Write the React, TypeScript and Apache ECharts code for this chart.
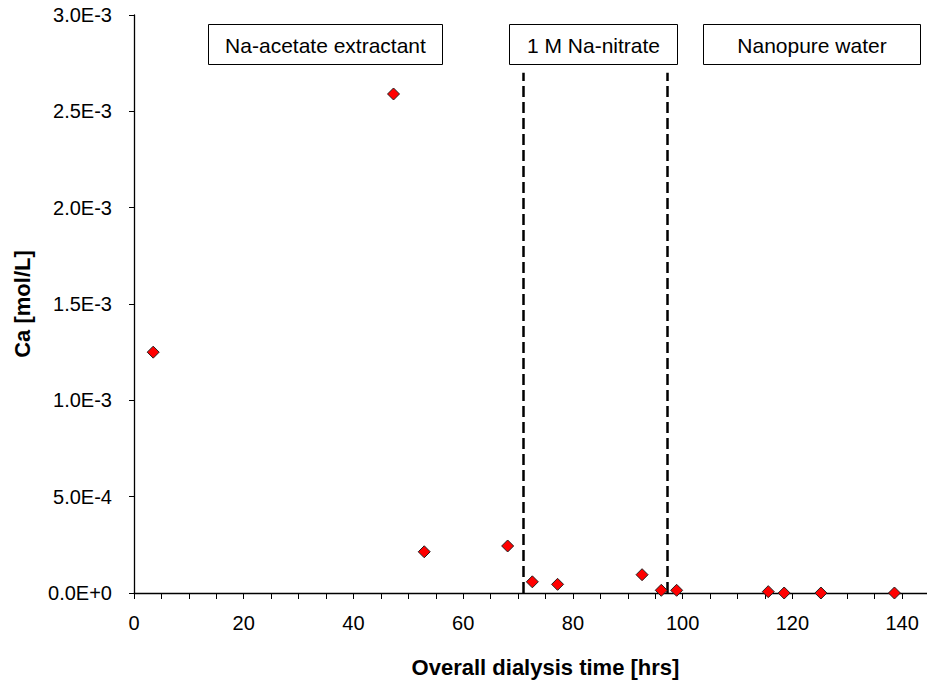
import React, { useEffect, useRef } from "react";
import * as echarts from "echarts";

// Data
const timeHrs = [3.5, 47.3, 52.9, 68.1, 72.6, 77.2, 92.6, 96.1, 98.9, 115.6, 118.5, 125.2, 138.6];
const caMolL = [1.25e-3, 2.59e-3, 2.14e-4, 2.44e-4, 5.8e-5, 4.5e-5, 9.5e-5, 1.4e-5, 1.4e-5, 7e-6, 0, 0, 0];
const phaseBoundaries = [71.0, 97.2];
const boundaryTop = 2.7e-3;
const phaseLabels = ["Na-acetate extractant", "1 M Na-nitrate", "Nanopure water"];
const xTitle = "Overall dialysis time [hrs]";
const yTitle = "Ca [mol/L]";

const FONT = "'Liberation Sans', Arial, sans-serif";

export default function App() {
  const ref = useRef<HTMLDivElement>(null);

  useEffect(() => {
    if (!ref.current) return;
    const chart = echarts.init(ref.current, undefined, { renderer: "svg" });

    const boxes = [
      { x: 208, y: 24, w: 234, h: 40 },
      { x: 509, y: 24, w: 168, h: 40 },
      { x: 703, y: 24, w: 217, h: 40 },
    ];

    const graphic: any[] = boxes.map((b, i) => ({
      type: "group",
      x: b.x,
      y: b.y,
      z: 100,
      children: [
        {
          type: "rect",
          shape: { x: 0.5, y: 0.5, width: b.w, height: b.h },
          style: { fill: "#ffffff", stroke: "#000000", lineWidth: 1 },
        },
        {
          type: "text",
          x: b.w / 2 + 0.5,
          y: b.h / 2 + 1,
          style: {
            text: phaseLabels[i],
            fill: "#000000",
            font: `21px ${FONT}`,
            align: "center",
            verticalAlign: "middle",
          },
        },
      ],
    }));

    chart.setOption({
      animation: false,
      backgroundColor: "#ffffff",
      grid: { left: 134, top: 15, width: 823, height: 578, containLabel: false },
      xAxis: {
        type: "value",
        min: 0,
        max: 150,
        interval: 20,
        name: xTitle,
        nameLocation: "middle",
        nameGap: 63,
        nameTextStyle: { fontFamily: FONT, fontSize: 22, fontWeight: "bold", color: "#000" },
        axisLine: { onZero: false, lineStyle: { color: "#000", width: 1.3 } },
        axisTick: { show: true, inside: false, length: 6, lineStyle: { color: "#000", width: 1 } },
        minorTick: { show: true, splitNumber: 4, length: 6, lineStyle: { color: "#000", width: 1 } },
        axisLabel: {
          fontFamily: FONT,
          fontSize: 20,
          color: "#000",
          margin: 20,
          showMaxLabel: false,
        },
        splitLine: { show: false },
      },
      yAxis: {
        type: "value",
        min: 0,
        max: 3e-3,
        interval: 5e-4,
        name: yTitle,
        nameLocation: "middle",
        nameGap: 101,
        nameTextStyle: { fontFamily: FONT, fontSize: 22, fontWeight: "bold", color: "#000" },
        axisLine: { show: true, onZero: false, lineStyle: { color: "#000", width: 1.3 } },
        axisTick: { show: true, inside: false, length: 5, lineStyle: { color: "#000", width: 1 } },
        axisLabel: {
          fontFamily: FONT,
          fontSize: 20,
          color: "#000",
          margin: 22,
          formatter: (v: number) => v.toExponential(1).toUpperCase(),
        },
        splitLine: { show: false },
      },
      series: [
        {
          type: "scatter",
          data: timeHrs.map((t, i) => [t, caMolL[i]]),
          symbol: "diamond",
          symbolSize: 12,
          itemStyle: { color: "#ff0000", borderColor: "#222222", borderWidth: 1, opacity: 1 },
          z: 5,
          markLine: {
            silent: true,
            symbol: ["none", "none"],
            label: { show: false },
            lineStyle: { color: "#000", type: [11, 5], width: 2.5, opacity: 1 },
            data: phaseBoundaries.map((b) => [
              { coord: [b, 0] },
              { coord: [b, boundaryTop] },
            ]),
            z: 3,
          },
        },
      ],
      graphic,
    });

    return () => chart.dispose();
  }, []);

  return (
    <div
      style={{
        position: "fixed",
        left: 0,
        top: 0,
        width: 927,
        height: 683,
        overflow: "hidden",
        background: "#fff",
      }}
    >
      <div ref={ref} style={{ width: 960, height: 683 }} />
    </div>
  );
}
